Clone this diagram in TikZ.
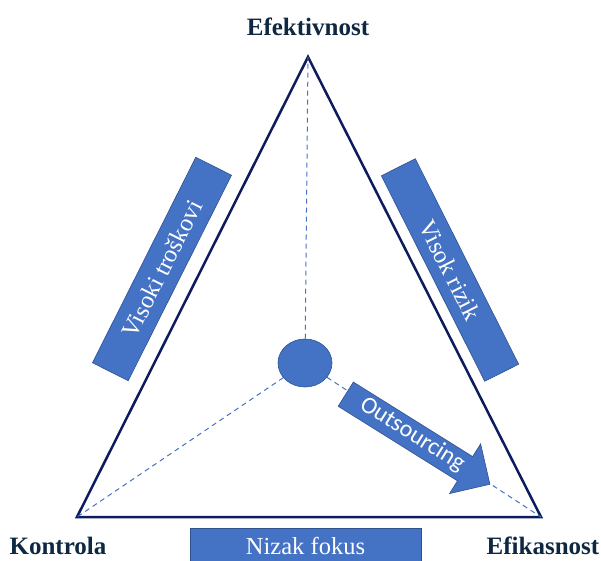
\documentclass[tikz,border=0pt]{standalone}
\usepackage{fontspec}
\setmainfont{Liberation Serif}
\newfontfamily\barserif{Liberation Serif}
\newfontfamily\labelsans{Carlito}
\usetikzlibrary{shapes.arrows,shapes.geometric}
\definecolor{navy}{HTML}{0E2841}
\definecolor{edgeblue}{HTML}{0C1C5C}
\definecolor{accent}{HTML}{4472C4}
\definecolor{accentdark}{HTML}{2F528F}

\begin{document}
\begin{tikzpicture}[x=1pt,y=1pt,
  corner/.style={font=\barserif\bfseries\fontsize{25}{30}\selectfont, text=navy, inner sep=0pt},
  bluebar/.style={fill=accent, draw=accentdark, line width=0.6pt, text=white,
    font=\barserif\fontsize{24.5}{28}\selectfont, inner sep=0pt},
  guide/.style={accent, dash pattern=on 5pt off 4pt, line width=1pt},
  flow/.style={single arrow, fill=accent, draw=accentdark, line width=0.6pt,
    text=white, font=\labelsans\fontsize{24}{27}\selectfont,
    text height=15.5pt, text depth=5pt, inner ysep=3.75pt, inner xsep=0pt,
    single arrow head extend=15pt, single arrow tip angle=90,
    minimum height=170pt}]
\useasboundingbox (0,0) rectangle (601,560);

% corners of the triangle
\coordinate (T) at (308,503);
\coordinate (L) at (77,43);
\coordinate (R) at (541,43);

\draw[edgeblue, line width=2.5pt, line join=miter] (T) -- (L) -- (R) -- cycle;

% corner labels
\node[corner] (eff) at (308,533) {Efektivnost};
\node[corner] (kon) at (58,14) {Kontrola};
\node[corner] (efi) at (543,14) {Efikasnost};

% centre point and its guides to the corners
\node[ellipse, fill=accent, draw=accentdark, line width=0.6pt,
      minimum width=54pt, minimum height=48pt, inner sep=0pt] (hub) at (305,197) {};
\draw[guide] (hub) -- (T);
\draw[guide] (hub) -- (L);
\draw[guide] (hub) -- (R);

% side bars
\node[bluebar, minimum width=230pt, minimum height=40pt, rotate=63.3] (costs) at (162,291) {Visoki troškovi};
\node[bluebar, minimum width=230pt, minimum height=38pt, rotate=-63.3] (risk) at (450,290) {Visok rizik};
\node[bluebar, minimum width=231pt, minimum height=36pt] (focus) at (305.5,14) {Nizak fokus};

% outsourcing arrow
\node[flow, rotate=-32, anchor=tail] (out) at (345.5,166) {Outsourcing};
\end{tikzpicture}
\end{document}
